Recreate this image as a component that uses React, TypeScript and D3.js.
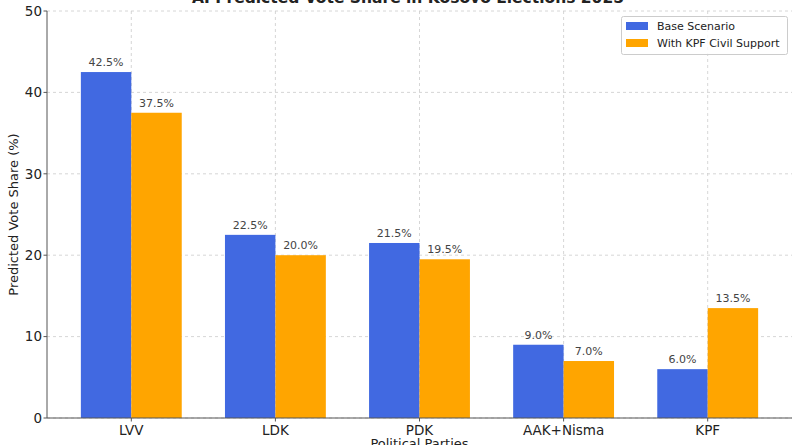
import React from "react";
import * as d3 from "d3";

const categories = ["LVV", "LDK", "PDK", "AAK+Nisma", "KPF"];
const baseValues = [42.5, 22.5, 21.5, 9.0, 6.0];
const kpfValues = [37.5, 20.0, 19.5, 7.0, 13.5];
const yTicks = [0, 10, 20, 30, 40, 50];
const seriesNames = ["Base Scenario", "With KPF Civil Support"];
const colors = ["#4169E1", "#FFA500"];

const W = 800, H = 445;
const left = 47, right = 792, top = 11, bottom = 418;
const font = "DejaVu Sans, sans-serif";
const barW = 0.35;

export default function App() {
  const x = d3.scaleLinear().domain([-0.585, categories.length - 1 + 0.585]).range([left, right]);
  const y = d3.scaleLinear().domain([0, 50]).range([bottom, top]);
  const series = [baseValues, kpfValues];
  return (
    <svg width={W} height={H} style={{ position: "absolute", left: 0, top: 0 }} fontFamily={font}>
      <rect width={W} height={H} fill="#fff" />
      {yTicks.map((t) => (
        <line key={"gy" + t} x1={left} x2={right} y1={y(t)} y2={y(t)} stroke="#cccccc" strokeWidth={0.8} strokeDasharray="3,3" />
      ))}
      {categories.map((c, i) => (
        <line key={"gx" + c} x1={x(i)} x2={x(i)} y1={top} y2={bottom} stroke="#cccccc" strokeWidth={0.8} strokeDasharray="3,3" />
      ))}
      {series.map((vals, s) =>
        vals.map((v, i) => {
          const x0 = x(i - barW + s * barW);
          const x1 = x(i + s * barW);
          return (
            <g key={s + "-" + i}>
              <rect x={x0} y={y(v)} width={x1 - x0} height={y(0) - y(v)} fill={colors[s]} />
              <text x={(x0 + x1) / 2} y={y(v) - 6} textAnchor="middle" fontSize={11} fill="#444">
                {v.toFixed(1) + "%"}
              </text>
            </g>
          );
        })
      )}
      <line x1={left} x2={left} y1={top} y2={bottom} stroke="#555" strokeWidth={1} />
      <line x1={left} x2={right} y1={bottom} y2={bottom} stroke="#555" strokeWidth={1} />
      {yTicks.map((t) => (
        <g key={"yt" + t}>
          <line x1={left - 3.5} x2={left} y1={y(t)} y2={y(t)} stroke="#555" />
          <text x={left - 5} y={y(t)} dy="0.35em" textAnchor="end" fontSize={13.5} fill="#222">{t}</text>
        </g>
      ))}
      {categories.map((c, i) => (
        <g key={"xt" + c}>
          <line x1={x(i)} x2={x(i)} y1={bottom} y2={bottom + 3.5} stroke="#555" />
          <text x={x(i)} y={bottom + 17} textAnchor="middle" fontSize={13.5} fill="#222">{c}</text>
        </g>
      ))}
      <text x={(left + right) / 2} y={447.5} textAnchor="middle" fontSize={13} fill="#222">Political Parties</text>
      <text transform={`translate(18, ${(top + bottom) / 2}) rotate(-90)`} textAnchor="middle" fontSize={13} fill="#222">
        Predicted Vote Share (%)
      </text>
      <text x={408} y={3} textAnchor="middle" fontSize={15.5} fontWeight="bold" fill="#222">
        AI Predicted Vote Share in Kosovo Elections 2025
      </text>
      <rect x={621.5} y={16.5} width={166} height={38} fill="#fff" fillOpacity={0.8} stroke="#ccc" rx={2} />
      {seriesNames.map((n, s) => (
        <g key={n}>
          <rect x={626} y={22 + s * 17} width={22} height={8} fill={colors[s]} />
          <text x={657} y={26 + s * 17} dy="0.35em" fontSize={11} fill="#222">{n}</text>
        </g>
      ))}
    </svg>
  );
}
